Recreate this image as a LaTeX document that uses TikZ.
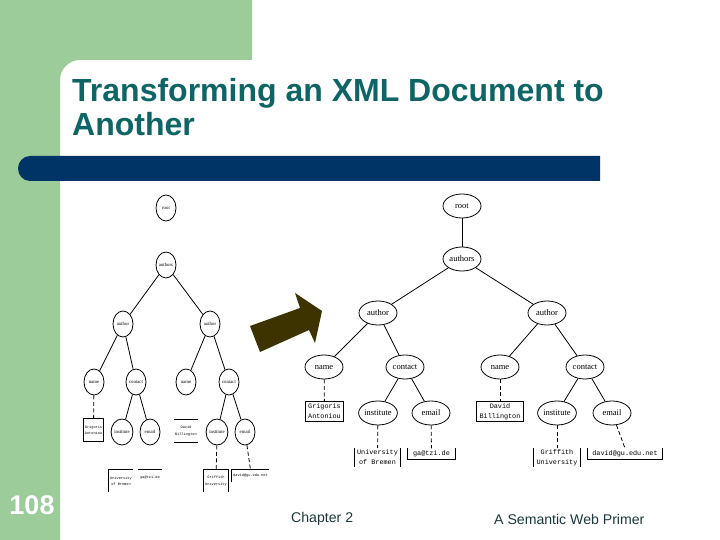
\documentclass[tikz,border=0pt]{standalone}
\usepackage{fontspec}
\setmainfont{Liberation Sans}
\newfontfamily\serifx{Liberation Serif}
\newfontfamily\monox{Liberation Mono}
\usetikzlibrary{shapes.geometric}
\definecolor{slidegreen}{HTML}{9CCC9A}
\definecolor{titleteal}{HTML}{0F6565}
\definecolor{barblue}{HTML}{003366}
\definecolor{arrowolive}{HTML}{3D3300}
\definecolor{foottext}{HTML}{1C3A3A}
\tikzset{
  big/.style={ellipse,draw=black,line width=0.8pt,inner sep=0pt,minimum width=38pt,minimum height=24pt,text height=5pt,text depth=0.5pt,font=\serifx\fontsize{8.5}{10}\selectfont},
  small/.style={ellipse,draw=black,line width=0.8pt,inner sep=0pt,minimum width=20pt,minimum height=26pt,text height=3pt,text depth=0.3pt,font=\serifx\fontsize{4.8}{6}\selectfont},
  bigleaf/.style={rectangle,inner sep=0pt,align=center,font=\monox\fontsize{6.8}{10}\selectfont},
  smallleaf/.style={rectangle,inner sep=0pt,align=center,font=\monox\fontsize{3.6}{6.5}\selectfont},
  edge/.style={line width=0.8pt,black},
  dashedge/.style={line width=0.8pt,black,dash pattern=on 4pt off 2.5pt},
  side/.style={line width=0.8pt,black},
  footer/.style={font=\fontsize{14.1}{16}\selectfont,text=foottext,inner sep=0pt}
}
\begin{document}
\begin{tikzpicture}[x=1pt,y=-1pt]
\useasboundingbox (0,0) rectangle (720,540);
\fill[white] (0,0) rectangle (720,540);
% slide background
\fill[slidegreen] (0,0) -- (252,0) -- (252,60) -- (80,60) .. controls (69,60) and (60,69) .. (60,80) -- (60,540) -- (0,540) -- cycle;
\fill[barblue] (30,156) -- (600,156) -- (600,181) -- (30,181) .. controls (23,181) and (18,175) .. (18,168.5) .. controls (18,162) and (23,156) .. (30,156) -- cycle;
% title and footer
\node[anchor=north west,inner sep=0pt,align=left,text=titleteal,font=\bfseries\fontsize{32}{34}\selectfont] (title) at (72,78) {Transforming an XML Document to\\Another};
\node[anchor=center,inner sep=0pt,text=white,font=\bfseries\fontsize{27}{30}\selectfont] (page) at (32,505) {108};
\node[footer,anchor=west] (ch) at (291,519) {Chapter 2};
\node[footer,anchor=west] (bk) at (494,519) {A Semantic Web Primer};
% arrow
\fill[arrowolive] (260,352) -- (250,326) -- (300,308) -- (295,293) -- (322,311) -- (315,343) -- (309,330) -- cycle;
% left tree
\node[small] (lroot) at (166,208) {root};
\node[small] (lauthors) at (166,265) {authors};
\node[small] (lauthorA) at (123,324) {author};
\node[small] (lauthorB) at (210,324) {author};
\node[small] (lnameA) at (94,382) {name};
\node[small] (lcontactA) at (136,382) {contact};
\node[small] (lnameB) at (186,382) {name};
\node[small] (lcontactB) at (229,382) {contact};
\node[small] (linstA) at (122,432) {institute};
\node[small] (lmailA) at (150,432) {email};
\node[small] (linstB) at (217,432) {institute};
\node[small] (lmailB) at (245,432) {email};
\node[smallleaf,minimum width=19pt,minimum height=22pt] (lgrig) at (93.5,430) {Grigoris\\Antoniou};
\node[smallleaf,minimum width=24pt,minimum height=22pt] (ldavid) at (186,431) {David\\Billington};
\node[smallleaf,minimum width=24pt,minimum height=22pt] (luni) at (121,481) {University\\of Bremen};
\node[smallleaf,minimum width=24pt,minimum height=16pt] (lgau) at (150,478) {ga@tzi.de};
\node[smallleaf,minimum width=24pt,minimum height=22pt] (lgri) at (216,481) {Griffith\\University};
\node[smallleaf,minimum width=37pt,minimum height=12pt] (ldav) at (250.5,476) {david@gu.edu.net};
\draw[edge] (lauthors) -- (lauthorA);
\draw[edge] (lauthors) -- (lauthorB);
\draw[edge] (lauthorA) -- (lnameA);
\draw[edge] (lauthorA) -- (lcontactA);
\draw[edge] (lauthorB) -- (lnameB);
\draw[edge] (lauthorB) -- (lcontactB);
\draw[edge] (lcontactA) -- (linstA);
\draw[edge] (lcontactA) -- (lmailA);
\draw[edge] (lcontactB) -- (linstB);
\draw[edge] (lcontactB) -- (lmailB);
\draw[dashedge] (lnameA) -- (lgrig);
\draw[dashedge] (linstB) -- (lgri);
\draw[dashedge] (lmailB) -- (ldav.north);
\draw[side] (lgrig.south west) -- (lgrig.north west) -- (lgrig.north east) -- (lgrig.south east) -- cycle;
\draw[side] (ldavid.north west) -- (ldavid.north east);
\draw[side] (ldavid.south west) -- (ldavid.south east);
\draw[side] (luni.south west) -- (luni.north west) -- (luni.north east);
\draw[side] (lgau.north west) -- (lgau.north east);
\draw[side] (lgri.south west) -- (lgri.north west) -- (lgri.north east) -- (lgri.south east);
\draw[side] (ldav.south west) -- (ldav.north west) -- (ldav.north east);
% right tree
\node[big] (root) at (462,206) {root};
\node[big] (authors) at (462,259) {authors};
\node[big] (authorA) at (378,313) {author};
\node[big] (authorB) at (547,313) {author};
\node[big] (nameA) at (324,367) {name};
\node[big] (contactA) at (405,367) {contact};
\node[big] (nameB) at (500,367) {name};
\node[big] (contactB) at (585,367) {contact};
\node[big] (instA) at (378,413) {institute};
\node[big] (mailA) at (431,413) {email};
\node[big] (instB) at (557,413) {institute};
\node[big] (mailB) at (612,413) {email};
\node[bigleaf,minimum width=37pt,minimum height=19pt] (grig) at (324.5,411.5) {Grigoris\\Antoniou};
\node[bigleaf,minimum width=46pt,minimum height=19pt] (david) at (500,411.5) {David\\Billington};
\node[bigleaf,minimum width=46pt,minimum height=19pt] (uni) at (377.5,457.5) {University\\of Bremen};
\node[bigleaf,minimum width=47pt,minimum height=11pt] (gau) at (431.5,454) {ga@tzi.de};
\node[bigleaf,minimum width=46pt,minimum height=19pt] (gri) at (557,457.5) {Griffith\\University};
\node[bigleaf,minimum width=74pt,minimum height=11pt] (dav) at (625,454) {david@gu.edu.net};
\draw[edge] (root) -- (authors);
\draw[edge] (authors) -- (authorA);
\draw[edge] (authors) -- (authorB);
\draw[edge] (authorA) -- (nameA);
\draw[edge] (authorA) -- (contactA);
\draw[edge] (authorB) -- (nameB);
\draw[edge] (authorB) -- (contactB);
\draw[edge] (contactA) -- (instA);
\draw[edge] (contactA) -- (mailA);
\draw[edge] (contactB) -- (instB);
\draw[edge] (contactB) -- (mailB);
\draw[dashedge] (nameA) -- (grig);
\draw[dashedge] (nameB) -- (david);
\draw[dashedge] (instA) -- (uni);
\draw[dashedge] (mailA) -- (gau);
\draw[dashedge] (instB) -- (gri);
\draw[dashedge] (mailB) -- (dav.north);
\draw[side] (grig.north west) rectangle (grig.south east);
\draw[side] (david.north west) rectangle (david.south east);
\draw[side] (uni.north west) -- (uni.south west);
\draw[side] (uni.north east) -- (uni.south east);
\draw[side] (gau.north west) -- (gau.south west) -- (gau.south east) -- (gau.north east);
\draw[side] (gri.north west) -- (gri.south west);
\draw[side] (gri.north east) -- (gri.south east);
\draw[side] (dav.north west) -- (dav.south west) -- (dav.south east) -- (dav.north east);
\end{tikzpicture}
\end{document}
